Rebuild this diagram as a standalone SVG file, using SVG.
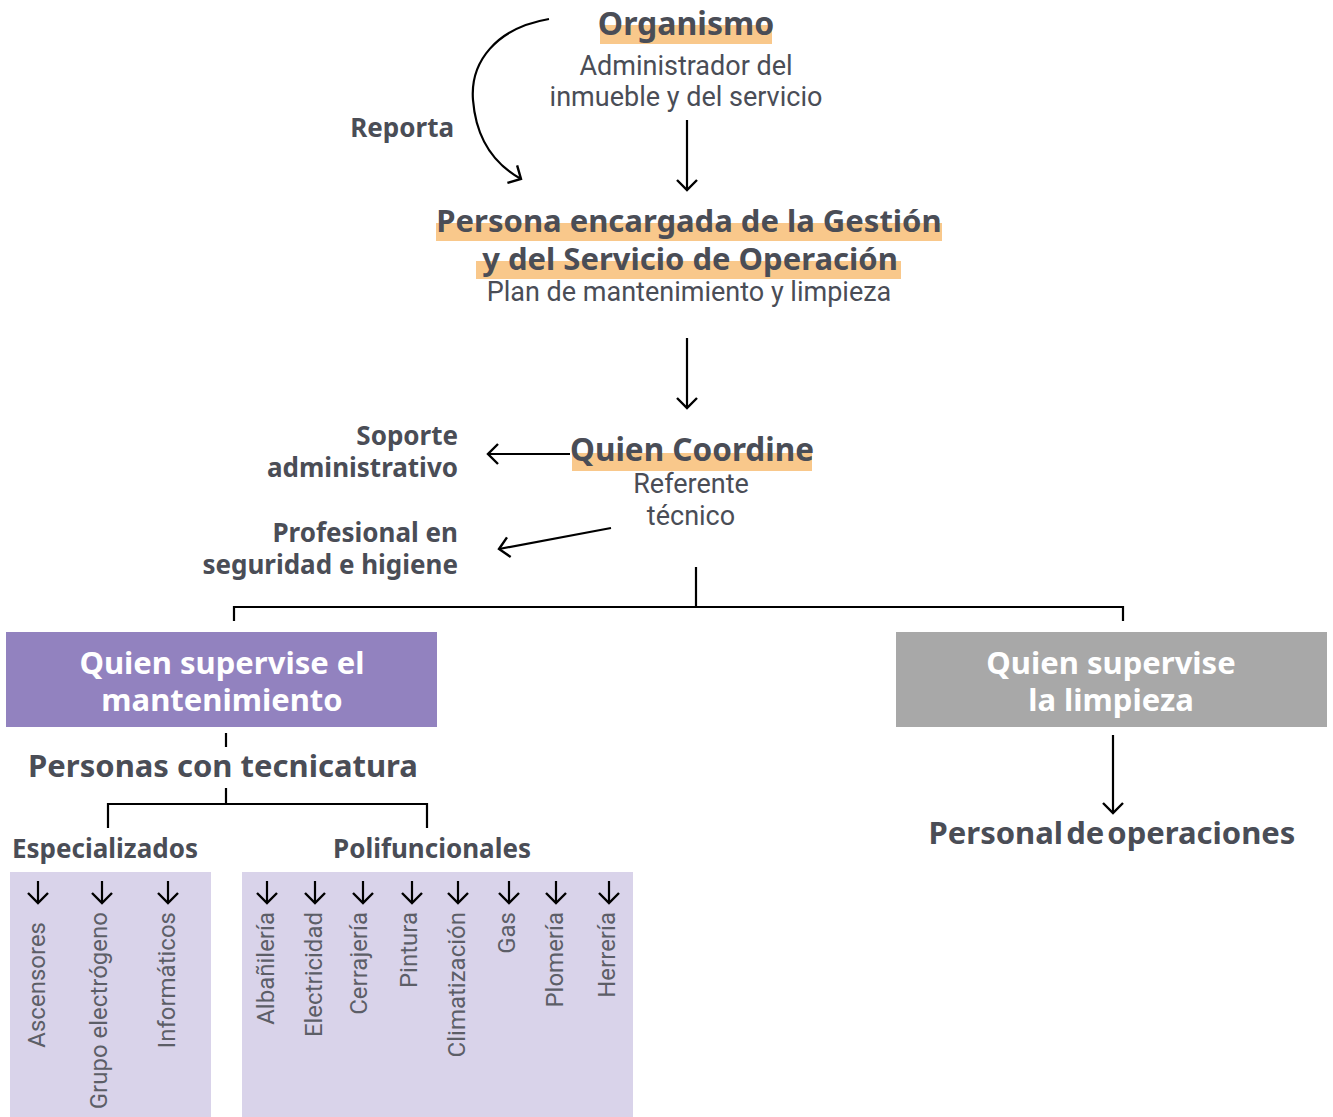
<svg xmlns="http://www.w3.org/2000/svg" width="1333" height="1117" viewBox="0 0 1333 1117">
<defs>
<style>
.t{font-family:"Noto Sans","Open Sans",sans-serif;font-weight:700;fill:#4a4d56}
.r{font-family:Roboto,"Liberation Sans",sans-serif;font-weight:400;fill:#4a4d56;font-size:27px}
.v{font-family:Roboto,"Liberation Sans",sans-serif;font-weight:400;fill:#5c5e67;font-size:24px;text-anchor:end}
.w{font-family:"Noto Sans","Open Sans",sans-serif;font-weight:700;fill:#ffffff;font-size:31px;text-anchor:middle}
.hl{fill:#f9c88b}
.ln{stroke:#000;stroke-width:2.2;fill:none}
.ar{stroke:#000;stroke-width:2.2;fill:none;marker-end:url(#ah)}
.c{text-anchor:middle}
.e{text-anchor:end}
</style>
<marker id="ah" markerUnits="userSpaceOnUse" markerWidth="14" markerHeight="24" viewBox="0 0 14 24" refX="12" refY="12" orient="auto">
<path d="M2,2 L12,12 L2,22" fill="none" stroke="#000" stroke-width="2.4"/>
</marker>
</defs>
<rect width="1333" height="1117" fill="#ffffff"/>

<g id="connectors">
<path class="ar" d="M549,19 C496,28 470,62 473,100 C476,138 494,164 521,179"/>
<line class="ar" x1="687" y1="120" x2="687" y2="190"/>
<line class="ar" x1="687" y1="338" x2="687" y2="408"/>
<line class="ar" x1="570" y1="454" x2="488" y2="454"/>
<line class="ar" x1="611" y1="528" x2="499" y2="549"/>
<path class="ln" d="M696,567 V607 M234,621 V607 H1123 V621"/>
<line class="ln" x1="226" y1="733" x2="226" y2="747"/>
<path class="ln" d="M226,788 V804 M108,828 V804 H427 V828"/>
<line class="ar" x1="1113" y1="735" x2="1113" y2="813"/>
</g>

<g id="organismo">
<rect class="hl" x="600" y="25" width="172" height="19"/>
<text class="t c" x="686" y="35" font-size="32">Organismo</text>
<text class="r c" x="686" y="75">Administrador del</text>
<text class="r c" x="686" y="106">inmueble y del servicio</text>
</g>

<g id="reporta">
<text class="t e" x="454" y="137" font-size="26">Reporta</text>
</g>

<g id="persona-encargada">
<rect class="hl" x="436" y="223" width="506" height="18"/>
<rect class="hl" x="476" y="261" width="425" height="18"/>
<text class="t c" x="689" y="232" font-size="31">Persona encargada de la Gestión</text>
<text class="t c" x="690" y="270" font-size="31">y del Servicio de Operación</text>
<text class="r c" x="689" y="301">Plan de mantenimiento y limpieza</text>
</g>

<g id="quien-coordine">
<rect class="hl" x="572" y="453" width="240" height="18"/>
<text class="t c" x="692" y="461" font-size="31.5">Quien Coordine</text>
<text class="r c" x="691" y="493">Referente</text>
<text class="r c" x="691" y="525">técnico</text>
</g>

<g id="soporte">
<text class="t e" x="458" y="445" font-size="26">Soporte</text>
<text class="t e" x="458" y="477" font-size="26">administrativo</text>
</g>

<g id="profesional">
<text class="t e" x="458" y="542" font-size="26">Profesional en</text>
<text class="t e" x="458" y="574" font-size="26">seguridad e higiene</text>
</g>

<g id="supervise-mantenimiento">
<rect x="6" y="632" width="431" height="95" fill="#9282bf"/>
<text class="w" x="222" y="674">Quien supervise el</text>
<text class="w" x="222" y="711">mantenimiento</text>
</g>

<g id="supervise-limpieza">
<rect x="896" y="632" width="431" height="95" fill="#a8a8a8"/>
<text class="w" x="1111" y="674">Quien supervise</text>
<text class="w" x="1111" y="711">la limpieza</text>
</g>

<g id="personal-operaciones">
<text class="t c" x="1112" y="844" font-size="31" word-spacing="-5">Personal de operaciones</text>
</g>

<g id="personas-tecnicatura">
<text class="t c" x="223" y="777" font-size="31">Personas con tecnicatura</text>
</g>

<g id="especializados">
<text class="t" x="12" y="858" font-size="26">Especializados</text>
<rect x="10" y="872" width="201" height="245" fill="#d9d3ea"/>
<line class="ar" x1="38" y1="881" x2="38" y2="903"/>
<line class="ar" x1="102" y1="881" x2="102" y2="903"/>
<line class="ar" x1="168" y1="881" x2="168" y2="903"/>
<text class="v" transform="translate(45,922) rotate(-90)">Ascensores</text>
<text class="v" transform="translate(107,912) rotate(-90)">Grupo electrógeno</text>
<text class="v" transform="translate(175,912) rotate(-90)">Informáticos</text>
</g>

<g id="polifuncionales">
<text class="t c" x="432" y="858" font-size="26">Polifuncionales</text>
<rect x="242" y="872" width="391" height="245" fill="#d9d3ea"/>
<line class="ar" x1="267" y1="881" x2="267" y2="903"/>
<line class="ar" x1="315" y1="881" x2="315" y2="903"/>
<line class="ar" x1="363" y1="881" x2="363" y2="903"/>
<line class="ar" x1="412" y1="881" x2="412" y2="903"/>
<line class="ar" x1="458" y1="881" x2="458" y2="903"/>
<line class="ar" x1="509" y1="881" x2="509" y2="903"/>
<line class="ar" x1="556" y1="881" x2="556" y2="903"/>
<line class="ar" x1="609" y1="881" x2="609" y2="903"/>
<text class="v" transform="translate(274,912) rotate(-90)">Albañilería</text>
<text class="v" transform="translate(322,912) rotate(-90)">Electricidad</text>
<text class="v" transform="translate(367,912) rotate(-90)">Cerrajería</text>
<text class="v" transform="translate(417,912) rotate(-90)">Pintura</text>
<text class="v" transform="translate(465,912) rotate(-90)">Climatización</text>
<text class="v" transform="translate(515,912) rotate(-90)">Gas</text>
<text class="v" transform="translate(563,912) rotate(-90)">Plomería</text>
<text class="v" transform="translate(615,912) rotate(-90)">Herrería</text>
</g>
</svg>
